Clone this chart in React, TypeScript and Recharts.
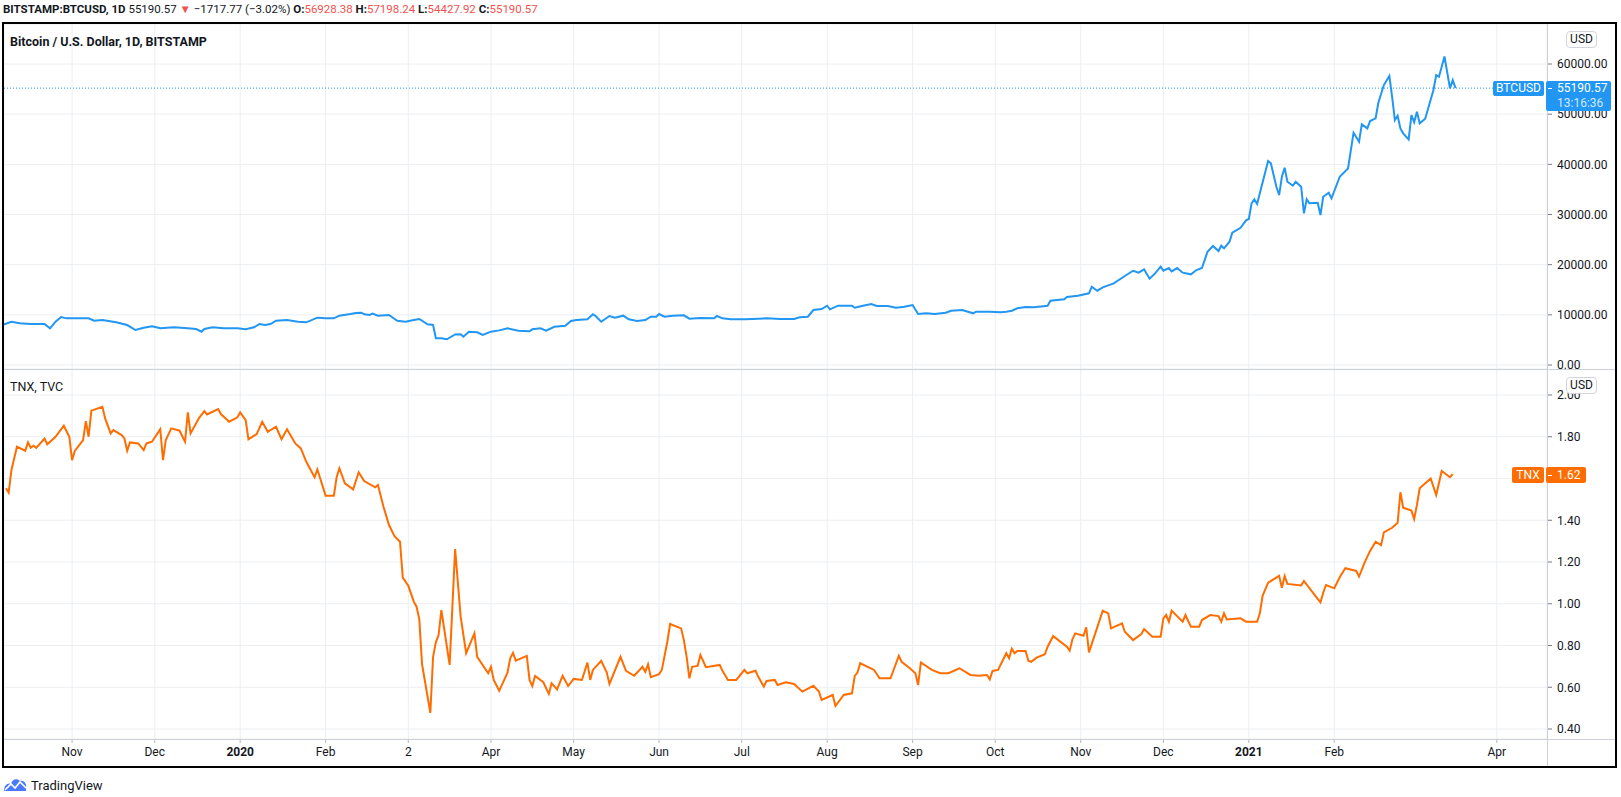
import React from 'react';
import { LineChart, Line, XAxis, YAxis, CartesianGrid, ReferenceLine } from 'recharts';

// BTCUSD daily closes (Bitstamp), sampled at the turning points
const btcDates = [
  '2019-10-07', '2019-10-10', '2019-10-13', '2019-10-17', '2019-10-20', '2019-10-22', '2019-10-24', '2019-10-26', '2019-10-28', '2019-10-30',
  '2019-11-04', '2019-11-07', '2019-11-09', '2019-11-12', '2019-11-17', '2019-11-21', '2019-11-24', '2019-11-27', '2019-11-30',
  '2019-12-03', '2019-12-08', '2019-12-13', '2019-12-16', '2019-12-18', '2019-12-19', '2019-12-22', '2019-12-26', '2019-12-31',
  '2020-01-03', '2020-01-06', '2020-01-08', '2020-01-10', '2020-01-12', '2020-01-14', '2020-01-18', '2020-01-22', '2020-01-25', '2020-01-29',
  '2020-02-01', '2020-02-04', '2020-02-06', '2020-02-10', '2020-02-12', '2020-02-14', '2020-02-15', '2020-02-17', '2020-02-18', '2020-02-20', '2020-02-24', '2020-02-27',
  '2020-03-01', '2020-03-04', '2020-03-06', '2020-03-09', '2020-03-11', '2020-03-12', '2020-03-14', '2020-03-16', '2020-03-19', '2020-03-21', '2020-03-22', '2020-03-24', '2020-03-27', '2020-03-29',
  '2020-04-01', '2020-04-04', '2020-04-07', '2020-04-11', '2020-04-15', '2020-04-16', '2020-04-19', '2020-04-21', '2020-04-24', '2020-04-28', '2020-04-30',
  '2020-05-02', '2020-05-06', '2020-05-08', '2020-05-09', '2020-05-11', '2020-05-14', '2020-05-16', '2020-05-19', '2020-05-21', '2020-05-24', '2020-05-27', '2020-05-29', '2020-05-31',
  '2020-06-01', '2020-06-03', '2020-06-06', '2020-06-10', '2020-06-12', '2020-06-16', '2020-06-21', '2020-06-22', '2020-06-24', '2020-06-27',
  '2020-07-02', '2020-07-05', '2020-07-10', '2020-07-15', '2020-07-20', '2020-07-22', '2020-07-25', '2020-07-27', '2020-07-30',
  '2020-08-01', '2020-08-02', '2020-08-05', '2020-08-10', '2020-08-11', '2020-08-14', '2020-08-17', '2020-08-19', '2020-08-23', '2020-08-26', '2020-08-29',
  '2020-09-01', '2020-09-03', '2020-09-06', '2020-09-09', '2020-09-13', '2020-09-15', '2020-09-19', '2020-09-23', '2020-09-24', '2020-09-29',
  '2020-10-03', '2020-10-05', '2020-10-07', '2020-10-09', '2020-10-12', '2020-10-15', '2020-10-20', '2020-10-21', '2020-10-26', '2020-10-27', '2020-10-31',
  '2020-11-04', '2020-11-05', '2020-11-07', '2020-11-09', '2020-11-13', '2020-11-17', '2020-11-20', '2020-11-22', '2020-11-24', '2020-11-26', '2020-11-28', '2020-11-30',
  '2020-12-01', '2020-12-03', '2020-12-04', '2020-12-06', '2020-12-08', '2020-12-11', '2020-12-13', '2020-12-15', '2020-12-17', '2020-12-19', '2020-12-21', '2020-12-22', '2020-12-23', '2020-12-25', '2020-12-26', '2020-12-29', '2020-12-31',
  '2021-01-01', '2021-01-02', '2021-01-03', '2021-01-04', '2021-01-05', '2021-01-07', '2021-01-08', '2021-01-09', '2021-01-11', '2021-01-12', '2021-01-13', '2021-01-14', '2021-01-15', '2021-01-17', '2021-01-18', '2021-01-20', '2021-01-21', '2021-01-22', '2021-01-23', '2021-01-26', '2021-01-27', '2021-01-28', '2021-01-30', '2021-01-31',
  '2021-02-03', '2021-02-06', '2021-02-08', '2021-02-10', '2021-02-11', '2021-02-13', '2021-02-14', '2021-02-16', '2021-02-17', '2021-02-19', '2021-02-21', '2021-02-22', '2021-02-23', '2021-02-24', '2021-02-25', '2021-02-26', '2021-02-28',
  '2021-03-01', '2021-03-02', '2021-03-03', '2021-03-04', '2021-03-06', '2021-03-09', '2021-03-10', '2021-03-11', '2021-03-13', '2021-03-15', '2021-03-16', '2021-03-17',
];
const btcClose = [
  8050, 8630, 8310, 8170, 8170, 8170, 7310, 8630, 9570, 9300,
  9300, 9300, 8830, 8970, 8510, 7970, 6975, 7430, 7710,
  7310, 7510, 7310, 7170, 6640, 7170, 7510, 7310, 7310,
  7110, 7510, 8170, 7970, 8170, 8830, 8970, 8630, 8510, 9430,
  9300, 9300, 9830, 10160, 10360, 10420, 10100, 9970, 10230, 9830, 9970, 8830,
  8630, 8970, 9170, 8110, 7970, 5320, 5320, 5120, 6100, 6120, 5640, 6640, 6520, 5980,
  6640, 6900, 7310, 6840, 6710, 7110, 7310, 6840, 7630, 7830, 8770,
  8970, 9100, 10100, 9770, 8630, 9770, 9430, 9830, 9100, 8770, 8970, 9630, 9630,
  10160, 9630, 9830, 9900, 9230, 9370, 9300, 9770, 9300, 9100,
  9100, 9170, 9300, 9170, 9170, 9500, 9630, 10960, 11160,
  11820, 11100, 11820, 11820, 11420, 11820, 12160, 11760, 11760, 11420, 11620,
  11960, 10160, 10300, 10160, 10420, 10820, 10960, 10300, 10620, 10620,
  10500, 10620, 10820, 11300, 11560, 11500, 11820, 12820, 13090, 13550, 13810,
  14290, 15610, 14810, 15480, 16280, 17740, 18790, 18400, 19070, 17200, 18270, 19600,
  18790, 19330, 18670, 19330, 18400, 18070, 18930, 19330, 22580, 23720, 22720, 23780, 23260, 24580, 26370, 27360, 28840,
  29100, 32230, 33020, 32090, 34220, 38530, 40660, 40200, 35540, 33880, 37530, 39330, 36530, 35740, 36530, 35540, 30230, 33020, 32230, 32350, 29900, 33540, 34340, 33220,
  37530, 39180, 46300, 44500, 47970, 47170, 48630, 49170, 52280, 55800, 57600, 53470, 48830, 49690, 47170, 46180, 44980,
  49830, 48400, 50480, 48170, 49090, 54810, 57800, 57460, 61500, 55150, 56800, 55190,
];

// TNX (10y yield x10), TVC
const tnxDates = [
  '2019-10-08', '2019-10-09', '2019-10-10', '2019-10-12', '2019-10-15', '2019-10-16', '2019-10-17', '2019-10-18', '2019-10-19', '2019-10-22', '2019-10-23', '2019-10-26', '2019-10-29', '2019-10-31',
  '2019-11-01', '2019-11-02', '2019-11-05', '2019-11-06', '2019-11-07', '2019-11-08', '2019-11-12', '2019-11-13', '2019-11-15', '2019-11-16', '2019-11-19', '2019-11-20', '2019-11-21', '2019-11-22', '2019-11-25', '2019-11-27', '2019-11-28', '2019-11-30',
  '2019-12-03', '2019-12-04', '2019-12-05', '2019-12-07', '2019-12-10', '2019-12-12', '2019-12-13', '2019-12-14', '2019-12-17', '2019-12-19', '2019-12-20', '2019-12-24', '2019-12-25', '2019-12-28', '2019-12-31',
  '2020-01-01', '2020-01-03', '2020-01-04', '2020-01-07', '2020-01-09', '2020-01-11', '2020-01-14', '2020-01-16', '2020-01-18', '2020-01-21', '2020-01-23', '2020-01-25', '2020-01-28', '2020-01-29',
  '2020-02-01', '2020-02-04', '2020-02-05', '2020-02-06', '2020-02-08', '2020-02-11', '2020-02-13', '2020-02-15', '2020-02-19', '2020-02-20', '2020-02-22', '2020-02-24', '2020-02-26', '2020-02-28', '2020-02-29',
  '2020-03-02', '2020-03-04', '2020-03-05', '2020-03-06', '2020-03-07', '2020-03-10', '2020-03-11', '2020-03-12', '2020-03-13', '2020-03-14', '2020-03-17', '2020-03-19', '2020-03-21', '2020-03-23', '2020-03-26', '2020-03-27', '2020-03-31',
  '2020-04-01', '2020-04-02', '2020-04-04', '2020-04-07', '2020-04-08', '2020-04-09', '2020-04-10', '2020-04-14', '2020-04-15', '2020-04-16', '2020-04-17', '2020-04-20', '2020-04-22', '2020-04-23', '2020-04-25', '2020-04-27', '2020-04-29',
  '2020-05-01', '2020-05-04', '2020-05-06', '2020-05-07', '2020-05-08', '2020-05-11', '2020-05-13', '2020-05-14', '2020-05-18', '2020-05-20', '2020-05-23', '2020-05-26', '2020-05-27', '2020-05-28', '2020-05-29',
  '2020-06-01', '2020-06-02', '2020-06-04', '2020-06-05', '2020-06-09', '2020-06-10', '2020-06-11', '2020-06-12', '2020-06-13', '2020-06-15', '2020-06-16', '2020-06-18', '2020-06-23', '2020-06-24', '2020-06-26', '2020-06-29',
  '2020-07-02', '2020-07-03', '2020-07-06', '2020-07-07', '2020-07-09', '2020-07-10', '2020-07-13', '2020-07-14', '2020-07-17', '2020-07-20', '2020-07-23', '2020-07-27', '2020-07-29', '2020-07-30',
  '2020-08-03', '2020-08-04', '2020-08-07', '2020-08-10', '2020-08-11', '2020-08-12', '2020-08-13', '2020-08-18', '2020-08-20', '2020-08-24', '2020-08-25', '2020-08-27', '2020-08-28', '2020-08-31',
  '2020-09-02', '2020-09-03', '2020-09-04', '2020-09-08', '2020-09-11', '2020-09-14', '2020-09-18', '2020-09-22', '2020-09-25', '2020-09-28', '2020-09-29', '2020-09-30',
  '2020-10-02', '2020-10-05', '2020-10-06', '2020-10-07', '2020-10-08', '2020-10-09', '2020-10-12', '2020-10-13', '2020-10-14', '2020-10-16', '2020-10-19', '2020-10-20', '2020-10-22', '2020-10-27', '2020-10-28', '2020-10-29', '2020-10-30',
  '2020-11-02', '2020-11-03', '2020-11-04', '2020-11-09', '2020-11-11', '2020-11-12', '2020-11-16', '2020-11-17', '2020-11-20', '2020-11-23', '2020-11-24', '2020-11-27', '2020-11-30',
  '2020-12-01', '2020-12-02', '2020-12-03', '2020-12-04', '2020-12-08', '2020-12-09', '2020-12-11', '2020-12-14', '2020-12-15', '2020-12-18', '2020-12-21', '2020-12-22', '2020-12-23', '2020-12-24', '2020-12-29', '2020-12-31',
  '2021-01-04', '2021-01-05', '2021-01-06', '2021-01-08', '2021-01-12', '2021-01-13', '2021-01-14', '2021-01-15', '2021-01-20', '2021-01-21', '2021-01-25', '2021-01-27', '2021-01-28', '2021-01-29',
  '2021-02-01', '2021-02-03', '2021-02-05', '2021-02-09', '2021-02-10', '2021-02-12', '2021-02-14', '2021-02-16', '2021-02-18', '2021-02-19', '2021-02-22', '2021-02-24', '2021-02-25', '2021-02-26',
  '2021-03-01', '2021-03-02', '2021-03-03', '2021-03-04', '2021-03-08', '2021-03-10', '2021-03-12', '2021-03-15', '2021-03-16',
];
const tnxClose = [
  1.553, 1.532, 1.641, 1.752, 1.733, 1.773, 1.747, 1.757, 1.747, 1.791, 1.764, 1.8, 1.853, 1.8,
  1.688, 1.732, 1.784, 1.875, 1.8, 1.925, 1.944, 1.888, 1.816, 1.832, 1.808, 1.792, 1.733, 1.773, 1.768, 1.736, 1.768, 1.776,
  1.836, 1.688, 1.784, 1.84, 1.829, 1.776, 1.917, 1.816, 1.888, 1.923, 1.907, 1.933, 1.909, 1.872, 1.893,
  1.917, 1.88, 1.788, 1.813, 1.872, 1.824, 1.848, 1.788, 1.836, 1.768, 1.744, 1.68, 1.606, 1.644,
  1.518, 1.518, 1.606, 1.649, 1.577, 1.548, 1.63, 1.588, 1.558, 1.569, 1.465, 1.377, 1.324, 1.297, 1.125,
  1.086, 1.01, 0.986, 0.925, 0.71, 0.477, 0.746, 0.815, 0.85, 0.97, 0.707, 1.262, 0.938, 0.763, 0.858, 0.746, 0.667,
  0.698, 0.635, 0.583, 0.67, 0.739, 0.765, 0.727, 0.75, 0.635, 0.606, 0.654, 0.624, 0.568, 0.619, 0.59, 0.655, 0.606,
  0.64, 0.635, 0.718, 0.635, 0.683, 0.727, 0.672, 0.616, 0.746, 0.679, 0.655, 0.698, 0.674, 0.71, 0.648,
  0.663, 0.683, 0.818, 0.903, 0.882, 0.826, 0.746, 0.643, 0.698, 0.702, 0.754, 0.696, 0.707, 0.679, 0.635, 0.635,
  0.683, 0.667, 0.679, 0.65, 0.603, 0.63, 0.635, 0.611, 0.624, 0.616, 0.579, 0.607, 0.579, 0.539,
  0.563, 0.51, 0.563, 0.571, 0.654, 0.67, 0.715, 0.683, 0.643, 0.643, 0.679, 0.75, 0.722, 0.691,
  0.667, 0.611, 0.719, 0.683, 0.667, 0.667, 0.691, 0.659, 0.655, 0.659, 0.638, 0.678,
  0.683, 0.763, 0.739, 0.785, 0.763, 0.774, 0.774, 0.727, 0.722, 0.742, 0.758, 0.794, 0.845, 0.794, 0.775, 0.83, 0.858,
  0.847, 0.887, 0.767, 0.967, 0.954, 0.882, 0.906, 0.866, 0.826, 0.855, 0.879, 0.842, 0.842,
  0.93, 0.946, 0.914, 0.967, 0.914, 0.946, 0.89, 0.89, 0.922, 0.946, 0.941, 0.914, 0.954, 0.925, 0.93, 0.914,
  0.914, 0.954, 1.038, 1.101, 1.134, 1.077, 1.133, 1.095, 1.088, 1.109, 1.04, 1.007, 1.053, 1.09,
  1.074, 1.127, 1.17, 1.157, 1.13, 1.197, 1.253, 1.297, 1.281, 1.342, 1.364, 1.388, 1.534, 1.46,
  1.446, 1.406, 1.473, 1.553, 1.6, 1.521, 1.636, 1.606, 1.621,
];

// time scale labels (the March mark is shown as its day number)
const timeTickDates = [
  '2019-11-01', '2019-12-01', '2020-01-01', '2020-02-01', '2020-03-02', '2020-04-01', '2020-05-01', '2020-06-01', '2020-07-01',
  '2020-08-01', '2020-09-01', '2020-10-01', '2020-11-01', '2020-12-01', '2021-01-01', '2021-02-01', '2021-04-01',
];
const timeTickLabels = ['Nov', 'Dec', '2020', 'Feb', '2', 'Apr', 'May', 'Jun', 'Jul', 'Aug', 'Sep', 'Oct', 'Nov', 'Dec', '2021', 'Feb', 'Apr'];
const btcTicks = [0, 10000, 20000, 30000, 40000, 50000, 60000];
const tnxTicks = [0.4, 0.6, 0.8, 1.0, 1.2, 1.4, 1.6, 1.8, 2.0];

const btcLast = 55190.57;
const tnxLast = 1.62;

const DAY_MS = 86400000;
const ORIGIN = Date.parse('2019-10-01');
const toDay = (d: string) => (Date.parse(d) - ORIGIN) / DAY_MS;

const btcData = btcDates.map((d, i) => ({ t: toDay(d), v: btcClose[i] }));
const tnxData = tnxDates.map((d, i) => ({ t: toDay(d), v: tnxClose[i] }));
const timeTicks = timeTickDates.map(toDay);

// visible range of the shared time scale, in days from 2019-10-01
const xDomain = [6.3, 566.2];
const btcDomain = [-797, 67974];
const tnxDomain = [0.3521, 2.1246];

const FONT = "Roboto, 'Noto Sans', Arial, sans-serif";
const TEXT = '#131722';
const GRID = '#eceef2';
const SEP = '#cdd0d6';
const BLUE = '#2196f3';
const ORANGE = '#ff6d00';
const RED = '#ef5350';

const TimeTick = (props: any) => {
  const { x, y, payload } = props;
  const label = timeTickLabels[timeTicks.indexOf(payload.value)] ?? '';
  const bold = /^\d{4}$/.test(label);
  return (
    <text x={x} y={y} dy="0.71em" textAnchor="middle" fontSize={12} fontFamily={FONT} fill={TEXT} fontWeight={bold ? 700 : 400}>
      {label}
    </text>
  );
};

const priceTick = { fill: TEXT, fontSize: 12, fontFamily: FONT };

const App = () => {
  return (
    <div style={{ position: 'absolute', left: 0, top: 0, width: 1621, height: 797, background: '#fff', fontFamily: FONT, color: TEXT }}>
      {/* symbol header */}
      <div style={{ position: 'absolute', left: 3, top: 1, fontSize: 11.5, lineHeight: '16px', whiteSpace: 'nowrap' }}>
        <b>BITSTAMP:BTCUSD, 1D</b> 55190.57 <span style={{ color: RED }}>▼</span> −1717.77 (−3.02%) <b>O:</b>
        <span style={{ color: RED }}>56928.38</span> <b>H:</b>
        <span style={{ color: RED }}>57198.24</span> <b>L:</b>
        <span style={{ color: RED }}>54427.92</span> <b>C:</b>
        <span style={{ color: RED }}>55190.57</span>
      </div>

      {/* BTCUSD pane */}
      <div style={{ position: 'absolute', left: 4, top: 24 }}>
        <LineChart width={1611} height={345} data={btcData} margin={{ top: 0, right: 0, bottom: 0, left: 0 }}>
          <CartesianGrid stroke={GRID} />
          <XAxis type="number" dataKey="t" domain={xDomain} ticks={timeTicks} allowDataOverflow hide />
          <YAxis
            orientation="right"
            width={68}
            domain={btcDomain}
            ticks={btcTicks}
            allowDataOverflow
            interval={0}
            axisLine={false}
            tickSize={5}
            tickMargin={5}
            tickLine={{ stroke: '#787b86' }}
            tick={priceTick}
            tickFormatter={(v: number) => v.toFixed(2)}
          />
          <ReferenceLine y={btcLast} stroke={BLUE} strokeDasharray="1 2" />
          <Line type="linear" dataKey="v" stroke={BLUE} strokeWidth={2} dot={false} isAnimationActive={false} />
        </LineChart>
      </div>

      {/* TNX pane with the time scale */}
      <div style={{ position: 'absolute', left: 4, top: 369 }}>
        <LineChart width={1611} height={397} data={tnxData} margin={{ top: 0, right: 0, bottom: 0, left: 0 }}>
          <CartesianGrid stroke={GRID} />
          <XAxis
            type="number"
            dataKey="t"
            domain={xDomain}
            ticks={timeTicks}
            allowDataOverflow
            interval={0}
            height={27}
            axisLine={false}
            tickSize={4}
            tickMargin={4}
            tickLine={{ stroke: '#b2b5be' }}
            tick={<TimeTick />}
          />
          <YAxis
            orientation="right"
            width={68}
            domain={tnxDomain}
            ticks={tnxTicks}
            allowDataOverflow
            interval={0}
            axisLine={false}
            tickSize={5}
            tickMargin={5}
            tickLine={{ stroke: '#787b86' }}
            tick={priceTick}
            tickFormatter={(v: number) => v.toFixed(2)}
          />
          <Line type="linear" dataKey="v" stroke={ORANGE} strokeWidth={2} dot={false} isAnimationActive={false} />
        </LineChart>
      </div>

      {/* separators and frame */}
      <div style={{ position: 'absolute', left: 1547, top: 24, width: 1, height: 742, background: SEP }} />
      <div style={{ position: 'absolute', left: 4, top: 369, width: 1611, height: 1, background: SEP }} />
      <div style={{ position: 'absolute', left: 4, top: 739, width: 1611, height: 1, background: SEP }} />
      <div style={{ position: 'absolute', left: 2, top: 22, width: 1615, height: 746, border: '2px solid #000', boxSizing: 'border-box' }} />

      {/* pane titles */}
      <div style={{ position: 'absolute', left: 10, top: 33, fontSize: 12.5, fontWeight: 700, lineHeight: '18px', whiteSpace: 'nowrap' }}>
        Bitcoin / U.S. Dollar, 1D, BITSTAMP
      </div>
      <div style={{ position: 'absolute', left: 10, top: 378, fontSize: 12.5, lineHeight: '18px', whiteSpace: 'nowrap' }}>TNX, TVC</div>

      {/* currency badges */}
      {[31, 377].map((top) => (
        <div
          key={top}
          style={{
            position: 'absolute', left: 1566, top, width: 31, height: 17, boxSizing: 'border-box',
            border: '1px solid #d1d4dc', borderRadius: 4, background: '#fff', fontSize: 12, lineHeight: '15px', textAlign: 'center',
          }}
        >
          USD
        </div>
      ))}

      {/* last price labels */}
      <div style={{ position: 'absolute', left: 1493, top: 81, width: 51, height: 15, background: BLUE, borderRadius: 2, color: '#fff', fontSize: 12, lineHeight: '15px', textAlign: 'center' }}>
        BTCUSD
      </div>
      <div style={{ position: 'absolute', left: 1546, top: 81, width: 65, height: 30, background: BLUE, borderRadius: 2, color: '#fff', fontSize: 12, lineHeight: '15px' }}>
        <div style={{ position: 'absolute', left: 2, top: 7, width: 4, height: 1, background: '#fff' }} />
        <div style={{ paddingLeft: 11 }}>{btcLast.toFixed(2)}</div>
        <div style={{ paddingLeft: 11, color: 'rgba(255,255,255,0.8)' }}>13:16:36</div>
      </div>
      <div style={{ position: 'absolute', left: 1512, top: 467, width: 32, height: 16, background: ORANGE, borderRadius: 2, color: '#fff', fontSize: 12, lineHeight: '16px', textAlign: 'center' }}>
        TNX
      </div>
      <div style={{ position: 'absolute', left: 1546, top: 467, width: 40, height: 16, background: ORANGE, borderRadius: 2, color: '#fff', fontSize: 12, lineHeight: '16px' }}>
        <div style={{ position: 'absolute', left: 2, top: 8, width: 4, height: 1, background: '#fff' }} />
        <div style={{ paddingLeft: 11 }}>{tnxLast.toFixed(2)}</div>
      </div>

      {/* watermark */}
      <div style={{ position: 'absolute', left: 3, top: 776, display: 'flex', alignItems: 'center' }}>
        <svg width={25} height={18} viewBox="0 0 25 18">
          <path d="M1 15 C1 9 5 6 8 8 C9 3 14 2 17 5 C21 4 24 8 23 12 L23 15 Z" fill="#2962ff" opacity={0.85} />
          <path d="M2 14 L8 8 L12 12 L17 6 L23 12" fill="none" stroke="#fff" strokeWidth={1.6} />
        </svg>
        <span style={{ marginLeft: 3, fontSize: 13 }}>TradingView</span>
      </div>
    </div>
  );
};

export default App;
